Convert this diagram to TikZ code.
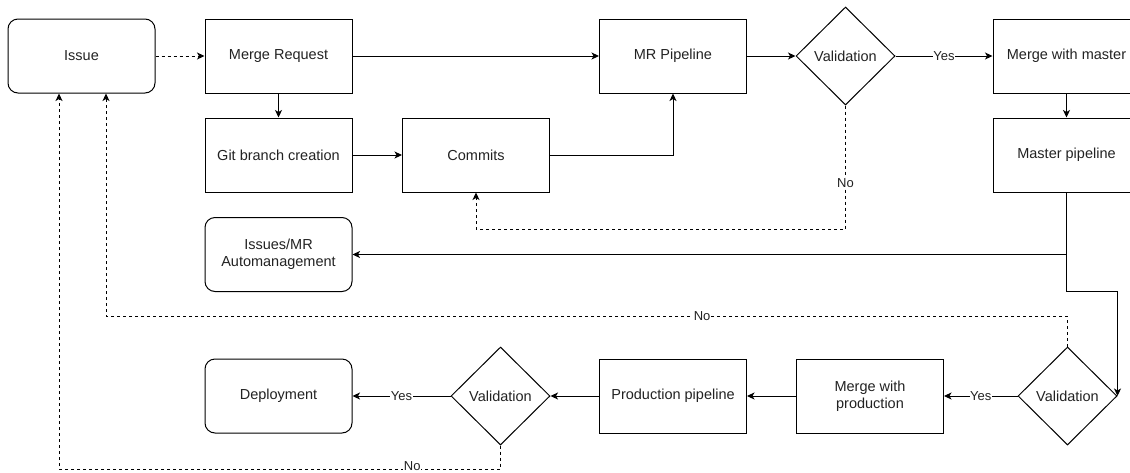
\documentclass[tikz,border=0pt]{standalone}
\usepackage{fontspec}
\setmainfont{Liberation Sans}
\usetikzlibrary{shapes.geometric,arrows.meta}
\definecolor{txt}{HTML}{222222}
\begin{document}
\begin{tikzpicture}[x=1pt,y=-1pt,
  box/.style={draw, line width=1pt, minimum width=147pt, minimum height=74pt, inner sep=0pt, align=center, text=txt, font=\fontsize{14.5}{17}\selectfont},
  rbox/.style={box, rounded corners=10pt},
  dia/.style={draw, diamond, line width=1pt, minimum width=99pt, minimum height=98pt, inner sep=0pt, text=txt, font=\fontsize{14.5}{17}\selectfont},
  arr/.style={line width=1pt, -{Stealth[length=7.5pt,width=7pt,inset=2pt]}},
  dasharr/.style={arr, dash pattern=on 3pt off 3pt},
  plain/.style={line width=1pt},
  lbl/.style={fill=white, inner sep=0.5pt, text=txt, font=\fontsize{13}{15}\selectfont}]
\useasboundingbox (0,0) rectangle (1130,472);
% nodes
\node[rbox] (issue) at (81.5,56) {Issue};
\node[box] (mr) at (278.5,56) {Merge Request};
\node[box] (git) at (278.5,155) {Git branch creation};
\node[box] (commits) at (476,155) {Commits};
\node[box] (mrp) at (673,56) {MR Pipeline};
\node[dia] (v1) at (845.5,56) {Validation};
\node[box] (mwm) at (1066.5,56) {Merge with master};
\node[box] (mpipe) at (1066.5,155) {Master pipeline};
\node[rbox] (auto) at (278.5,254.5) {Issues/MR\\Automanagement};
\node[dia] (v2) at (1067.5,396) {Validation};
\node[box] (mwp) at (870,396) {Merge with\\production};
\node[box] (ppipe) at (673,396) {Production pipeline};
\node[dia] (v3) at (500.5,396) {Validation};
\node[rbox] (deploy) at (278.5,396) {Deployment};
% helper coordinates
\coordinate (n1) at (845.5,229);
\coordinate (j1) at (1066.5,254.5);
\coordinate (j2) at (1066.5,291);
\coordinate (c1) at (106,316);
\coordinate (c2) at (59,469);
% connectors
\draw[dasharr] (issue) -- (mr);
\draw[arr] (mr) -- (mrp);
\draw[arr] (mr) -- (git);
\draw[arr] (git) -- (commits);
\draw[arr] (commits.east) -| (mrp.south);
\draw[arr] (mrp) -- (v1);
\draw[arr] (v1) -- node[lbl]{Yes} (mwm);
\draw[dasharr] (v1.south) -- node[lbl,pos=0.63]{No} (n1) -| (commits.south);
\draw[arr] (mwm) -- (mpipe);
\draw[arr] (mpipe.south) -- (j1) -- (auto.east);
\draw[arr] (j1) -- (j2) -| (v2.east);
\draw[dasharr] (v2.north) |- node[lbl,pos=0.69]{No} (c1) -- (c1 |- issue.south);
\draw[arr] (v2) -- node[lbl]{Yes} (mwp);
\draw[arr] (mwp) -- (ppipe);
\draw[arr] (ppipe) -- (v3);
\draw[arr] (v3) -- node[lbl]{Yes} (deploy);
\draw[dasharr] (v3.south) |- node[lbl,pos=0.6,yshift=3pt]{No} (c2) -- (c2 |- issue.south);
\end{tikzpicture}
\end{document}
